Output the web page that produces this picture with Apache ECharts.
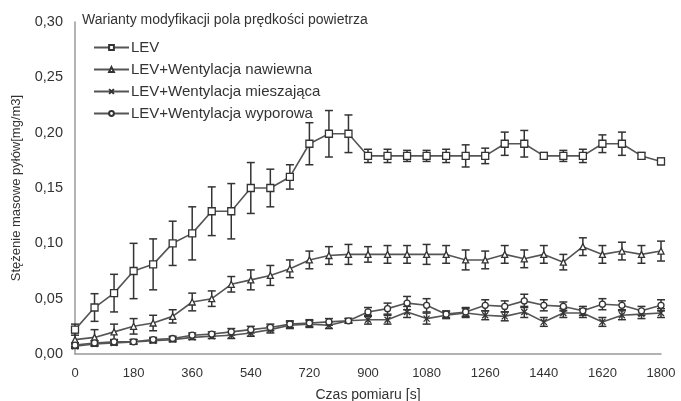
<!DOCTYPE html>
<html>
<head>
<meta charset="utf-8">
<script src="https://cdn.jsdelivr.net/npm/echarts@6/dist/echarts.min.js"></script>
<style>html,body{margin:0;padding:0;background:#fff}#c{width:681px;height:401px}</style>
</head>
<body>
<div id="c"></div>
<script>
var times = [0,60,120,180,240,300,360,420,480,540,600,660,720,780,840,900,960,1020,1080,1140,1200,1260,1320,1380,1440,1500,1560,1620,1680,1740,1800];
var xTicks = [0,180,360,540,720,900,1080,1260,1440,1620,1800];
var yTicks = [0,0.05,0.10,0.15,0.20,0.25,0.30];
var names = ['LEV','LEV+Wentylacja nawiewna','LEV+Wentylacja mieszająca','LEV+Wentylacja wyporowa'];

var lev = [0.022,0.042,0.055,0.075,0.081,0.100,0.109,0.129,0.129,0.150,0.150,0.160,0.190,0.199,0.199,0.179,0.179,0.179,0.179,0.179,0.179,0.179,0.190,0.190,0.179,0.179,0.179,0.190,0.190,0.179,0.174];
var levErr = [0.005,0.0125,0.017,0.025,0.023,0.020,0.024,0.022,0.025,0.023,0.017,0.011,0.019,0.021,0.017,0.006,0.006,0.005,0.005,0.006,0.010,0.007,0.0105,0.012,0.003,0.005,0.006,0.008,0.0105,0.003,0.003];

var nawiewna = [0.013,0.015,0.020,0.025,0.028,0.034,0.047,0.050,0.063,0.067,0.071,0.077,0.085,0.089,0.090,0.090,0.090,0.090,0.090,0.090,0.085,0.085,0.090,0.086,0.090,0.083,0.097,0.090,0.093,0.090,0.093];
var nawiewnaErr = [0.006,0.007,0.007,0.007,0.007,0.006,0.008,0.007,0.007,0.009,0.009,0.008,0.008,0.008,0.009,0.007,0.008,0.008,0.009,0.008,0.009,0.008,0.008,0.008,0.008,0.007,0.008,0.008,0.008,0.008,0.009];

var mieszajaca = [0.007,0.009,0.010,0.011,0.012,0.013,0.015,0.016,0.017,0.019,0.022,0.026,0.027,0.026,0.030,0.031,0.031,0.038,0.032,0.035,0.037,0.035,0.034,0.038,0.029,0.037,0.037,0.029,0.035,0.036,0.037];
var mieszajacaErr = [0.002,0.002,0.002,0.002,0.002,0.002,0.002,0.002,0.003,0.003,0.003,0.003,0.003,0.003,0.002,0.004,0.004,0.005,0.005,0.003,0.004,0.004,0.004,0.005,0.004,0.004,0.004,0.004,0.004,0.004,0.004];

var wyporowa = [0.008,0.010,0.011,0.011,0.013,0.014,0.017,0.018,0.020,0.022,0.024,0.027,0.028,0.029,0.030,0.038,0.041,0.046,0.044,0.036,0.038,0.044,0.043,0.048,0.044,0.043,0.039,0.045,0.044,0.039,0.044];
var wyporowaErr = [0.002,0.002,0.002,0.002,0.002,0.002,0.002,0.002,0.003,0.003,0.003,0.003,0.003,0.003,0.002,0.004,0.005,0.006,0.006,0.003,0.004,0.005,0.005,0.006,0.005,0.004,0.004,0.005,0.004,0.004,0.005];

var FONT = 'Liberation Sans';
var LINE = '#555';
var BAR = '#333';

function pairs(vals){ return times.map(function(t,i){ return [t, vals[i]]; }); }
function errData(vals, errs){ return times.map(function(t,i){ return [t, vals[i]-errs[i], vals[i]+errs[i]]; }); }

function errSeries(vals, errs){
  return {
    type: 'custom',
    z: 1,
    silent: true,
    data: errData(vals, errs),
    encode: {x: 0, y: [1,2]},
    renderItem: function(params, api){
      var x = api.value(0);
      var lo = api.coord([x, api.value(1)]);
      var hi = api.coord([x, api.value(2)]);
      var w = 4;
      var st = {stroke: BAR, lineWidth: 1.5};
      return {type:'group', children:[
        {type:'line', shape:{x1:lo[0],y1:lo[1],x2:hi[0],y2:hi[1]}, style:st},
        {type:'line', shape:{x1:lo[0]-w,y1:lo[1],x2:lo[0]+w,y2:lo[1]}, style:st},
        {type:'line', shape:{x1:hi[0]-w,y1:hi[1],x2:hi[0]+w,y2:hi[1]}, style:st}
      ]};
    }
  };
}

function lineSeries(name, vals, symbol, size, fill){
  return {
    name: name,
    type: 'line',
    z: 3,
    data: pairs(vals),
    symbol: symbol,
    symbolSize: size,
    showAllSymbol: true,
    lineStyle: {color: LINE, width: 1.6},
    itemStyle: {color: fill, borderColor: BAR, borderWidth: 1.3},
    emphasis: {disabled: true}
  };
}

var chart = echarts.init(document.getElementById('c'), null, {renderer: 'canvas'});
chart.setOption({
  animation: false,
  backgroundColor: '#fff',
  textStyle: {fontFamily: FONT},
  title: {
    text: 'Warianty modyfikacji pola prędkości powietrza',
    left: 77, top: 8,
    textStyle: {fontFamily: FONT, fontSize: 14, fontWeight: 'normal', color: '#333'}
  },
  legend: {
    orient: 'vertical',
    left: 88, top: 34,
    itemWidth: 35, itemHeight: 6,
    itemGap: 5,
    data: names,
    textStyle: {fontFamily: FONT, fontSize: 15, lineHeight: 17, color: '#333', padding: [0,0,0,-3]}
  },
  grid: {left: 75, right: 20, top: 22, bottom: 47, containLabel: false, outerBoundsMode: 'none'},
  xAxis: {
    type: 'value', min: 0, max: 1800, interval: 180,
    name: 'Czas pomiaru [s]', nameLocation: 'middle', nameGap: 34,
    nameTextStyle: {fontFamily: FONT, fontSize: 14, color: '#333'},
    axisLine: {show: true, lineStyle: {color: '#999', width: 1.5}},
    axisTick: {show: false},
    splitLine: {show: false},
    axisLabel: {fontFamily: FONT, fontSize: 13, color: '#333', margin: 13,
      customValues: xTicks, formatter: function(v){ return String(v); }}
  },
  yAxis: {
    type: 'value', min: 0, max: 0.3, interval: 0.05,
    name: 'Stężenie masowe pyłów[mg/m3]', nameLocation: 'middle', nameGap: 52,
    nameTextStyle: {fontFamily: FONT, fontSize: 13, color: '#333'},
    axisLine: {show: true, lineStyle: {color: '#999', width: 1.5}},
    axisTick: {show: false},
    splitLine: {show: false},
    axisLabel: {fontFamily: FONT, fontSize: 14.5, color: '#333', margin: 12,
      formatter: function(v){ return v.toFixed(2).replace('.', ','); }}
  },
  series: [
    errSeries(lev, levErr),
    errSeries(nawiewna, nawiewnaErr),
    errSeries(mieszajaca, mieszajacaErr),
    errSeries(wyporowa, wyporowaErr),
    lineSeries(names[0], lev, 'rect', 7, '#fff'),
    lineSeries(names[1], nawiewna, 'triangle', 6, '#fff'),
    lineSeries(names[2], mieszajaca, 'path://M0,0L10,10M10,0L0,10', 6, 'none'),
    lineSeries(names[3], wyporowa, 'circle', 6, '#fff')
  ]
});
</script>
</body>
</html>
